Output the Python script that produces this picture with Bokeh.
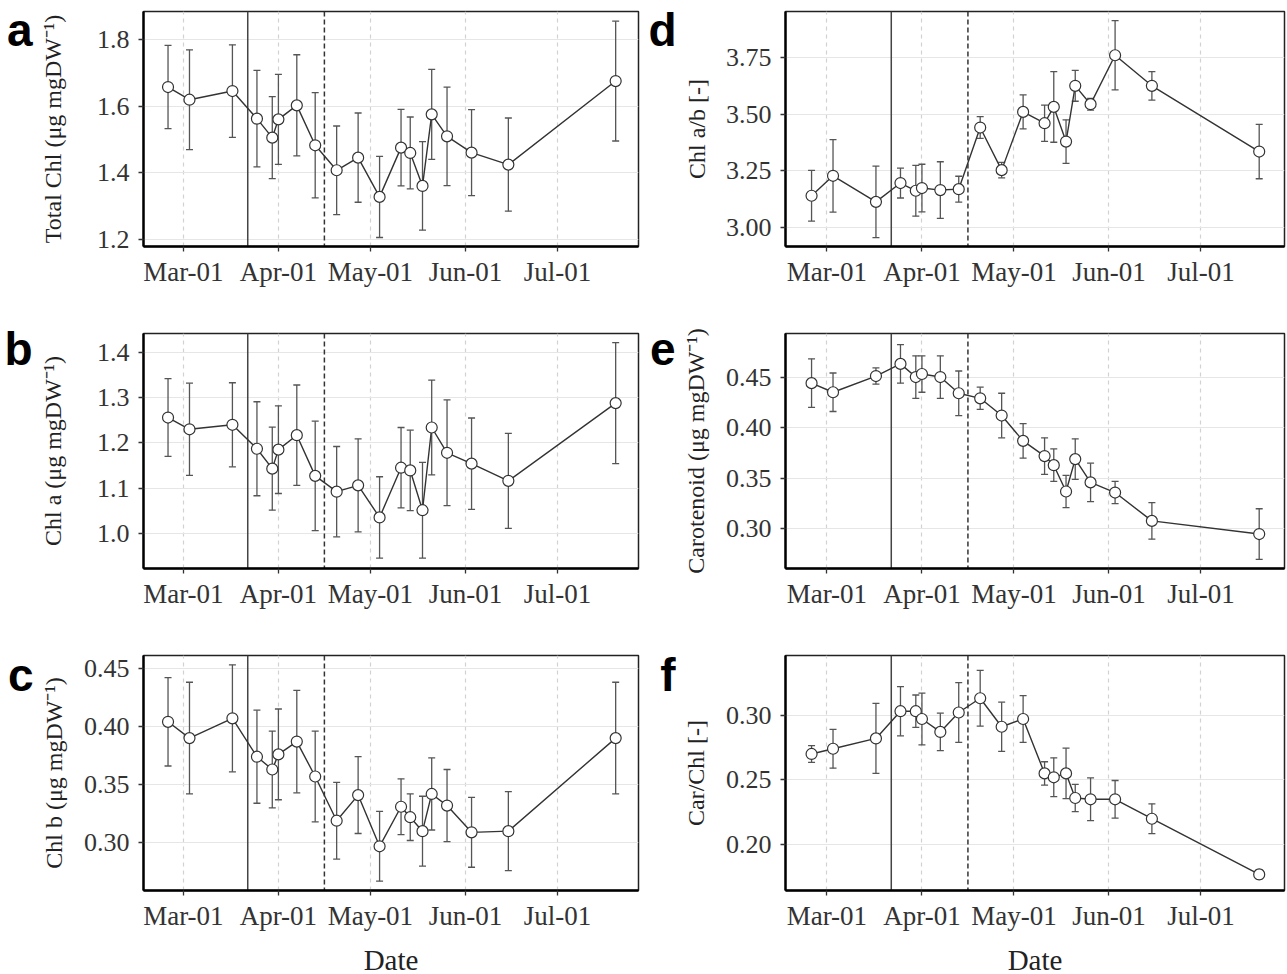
import datetime as dt
from bokeh.plotting import figure
from bokeh.models import (Span, FixedTicker, DatetimeTickFormatter, LinearAxis,
                          CustomJSTickFormatter, Range1d, NumeralTickFormatter,
                          ColumnDataSource)
from bokeh.layouts import column, row
from bokeh.embed import file_html
from bokeh.resources import INLINE

# ---------------- data ----------------
dates = ["2018-02-24", "2018-03-03", "2018-03-17", "2018-03-25", "2018-03-30",
         "2018-04-01", "2018-04-07", "2018-04-13", "2018-04-20", "2018-04-27",
         "2018-05-04", "2018-05-11", "2018-05-14", "2018-05-18", "2018-05-21",
         "2018-05-26", "2018-06-03", "2018-06-15", "2018-07-20"]
event_solid = "2018-03-22"
event_dashed = "2018-04-16"
month_ticks = ["2018-03-01", "2018-04-01", "2018-05-01", "2018-06-01", "2018-07-01"]

total_chl = [1.658, 1.620, 1.646, 1.563, 1.506, 1.561, 1.603, 1.483, 1.408, 1.446,
             1.328, 1.476, 1.460, 1.361, 1.576, 1.510, 1.461, 1.425, 1.676]
total_chl_sd = [0.125, 0.150, 0.139, 0.145, 0.123, 0.135, 0.152, 0.158, 0.133, 0.134,
                0.122, 0.115, 0.108, 0.133, 0.135, 0.148, 0.129, 0.140, 0.180]

chl_a = [1.256, 1.230, 1.240, 1.187, 1.143, 1.185, 1.217, 1.127, 1.092, 1.106,
         1.035, 1.145, 1.139, 1.051, 1.234, 1.178, 1.154, 1.116, 1.288]
chl_a_sd = [0.086, 0.102, 0.093, 0.104, 0.092, 0.097, 0.111, 0.121, 0.100, 0.103,
            0.090, 0.089, 0.089, 0.106, 0.105, 0.117, 0.101, 0.105, 0.134]

chl_b = [0.404, 0.390, 0.407, 0.374, 0.363, 0.376, 0.387, 0.357, 0.319, 0.341,
         0.297, 0.331, 0.322, 0.310, 0.342, 0.332, 0.309, 0.310, 0.390]
chl_b_sd = [0.038, 0.048, 0.046, 0.040, 0.033, 0.039, 0.044, 0.039, 0.033, 0.033,
            0.030, 0.024, 0.020, 0.030, 0.031, 0.031, 0.030, 0.034, 0.048]

chl_ab = [3.140, 3.228, 3.113, 3.196, 3.162, 3.174, 3.165, 3.169, 3.441, 3.253,
          3.510, 3.460, 3.532, 3.379, 3.625, 3.544, 3.760, 3.625, 3.335]
chl_ab_sd = [0.112, 0.160, 0.158, 0.066, 0.112, 0.105, 0.125, 0.057, 0.048, 0.034,
             0.075, 0.080, 0.156, 0.096, 0.068, 0.026, 0.153, 0.063, 0.120]

carotenoid = [0.444, 0.435, 0.451, 0.463, 0.450, 0.453, 0.450, 0.434, 0.429, 0.412,
              0.387, 0.372, 0.363, 0.337, 0.369, 0.346, 0.336, 0.308, 0.295]
carotenoid_sd = [0.024, 0.019, 0.008, 0.019, 0.021, 0.018, 0.021, 0.022, 0.011, 0.022,
                 0.017, 0.018, 0.016, 0.016, 0.020, 0.019, 0.011, 0.018, 0.025]

car_chl = [0.270, 0.274, 0.282, 0.303, 0.303, 0.297, 0.287, 0.302, 0.313, 0.291,
           0.297, 0.255, 0.252, 0.255, 0.236, 0.235, 0.235, 0.220, 0.177]
car_chl_sd = [0.0065, 0.015, 0.027, 0.019, 0.0125, 0.020, 0.0145, 0.023, 0.0215, 0.019,
              0.018, 0.009, 0.015, 0.0195, 0.0105, 0.0165, 0.0145, 0.0115, 0.0035]

titles = ["Total Chl (μg mgDW⁻¹)", "Chl a (μg mgDW⁻¹)", "Chl b (μg mgDW⁻¹)",
          "Chl a/b [-]", "Carotenoid (μg mgDW⁻¹)", "Car/Chl [-]"]
letters = ["a", "b", "c", "d", "e", "f"]
y_ticks = [[1.2, 1.4, 1.6, 1.8], [1.0, 1.1, 1.2, 1.3, 1.4], [0.30, 0.35, 0.40, 0.45],
           [3.00, 3.25, 3.50, 3.75], [0.30, 0.35, 0.40, 0.45], [0.20, 0.25, 0.30]]
y_fmt = ["0.0", "0.0", "0.00", "0.00", "0.00", "0.00"]
y_lims = [(1.179, 1.885), (0.922, 1.442), (0.259, 0.461),
          (2.916, 3.953), (0.261, 0.493), (0.1646, 0.346)]

# ---------------- helpers ----------------
DAY = 86400000.0


def ms(s):
    d = dt.datetime.strptime(s, "%Y-%m-%d").replace(tzinfo=dt.timezone.utc)
    return d.timestamp() * 1000.0


MAR1 = ms("2018-03-01")
SERIF = "Liberation Serif"
FH = 235


def panel(idx, vals, sds, col, row_idx):
    fw = 495 if col == 0 else 499
    left = 143 if col == 0 else 142
    right = 5 if col == 0 else 3
    top = [11, 12, 13][row_idx]
    bottom = [75, 74, 80][row_idx]
    x0 = MAR1 + (-13.0 if col == 0 else -13.5) * DAY
    x1 = x0 + fw / 3.066 * DAY
    ylo, yhi = y_lims[idx]

    p = figure(frame_width=fw, frame_height=FH, x_axis_type="datetime",
               x_range=Range1d(x0, x1), y_range=Range1d(ylo, yhi),
               output_backend="svg", toolbar_location=None,
               min_border_left=left, min_border_right=right,
               min_border_top=top, min_border_bottom=bottom,
               background_fill_color="white", border_fill_color="white")
    p.outline_line_color = "#222222"
    p.outline_line_width = 1.5

    xt = FixedTicker(ticks=[ms(m) for m in month_ticks])
    yt = FixedTicker(ticks=y_ticks[idx])
    p.xaxis.ticker = xt
    p.yaxis.ticker = yt
    p.xgrid.ticker = xt
    p.ygrid.ticker = yt
    p.xaxis.formatter = DatetimeTickFormatter(
        milliseconds="%b-%d", seconds="%b-%d", minsec="%b-%d", minutes="%b-%d",
        hourmin="%b-%d", hours="%b-%d", days="%b-%d", months="%b-%d", years="%b-%d")
    p.yaxis.formatter = NumeralTickFormatter(format=y_fmt[idx])

    p.xgrid.grid_line_color = "#d2d2d2"
    p.xgrid.grid_line_dash = "4 4"
    p.xgrid.grid_line_width = 1.2
    p.ygrid.grid_line_color = "#e6e6e6"
    p.ygrid.grid_line_width = 1.2

    for ax in (p.xaxis[0], p.yaxis[0]):
        ax.axis_line_color = "black"
        ax.axis_line_width = 2.4
        ax.major_tick_line_color = "#333333"
        ax.major_tick_line_width = 1.3
        ax.major_tick_out = 5
        ax.major_tick_in = 0
        ax.minor_tick_line_color = None
        ax.major_label_text_font = SERIF
        ax.major_label_text_color = "#333333"
        ax.axis_label_text_font = SERIF
        ax.axis_label_text_font_style = "normal"
        ax.axis_label_text_color = "#222222"
    p.xaxis.major_label_text_font_size = "27px"
    p.yaxis.major_label_text_font_size = "26px"
    p.yaxis.major_label_standoff = 9
    p.xaxis.major_label_standoff = 5
    p.yaxis.axis_label = titles[idx]
    p.yaxis.axis_label_text_font_size = "24px"
    p.yaxis.axis_label_standoff = [28, 28, 14, 13, 14, 14][idx]
    if row_idx == 2:
        p.xaxis.axis_label = "Date"
        p.xaxis.axis_label_text_font_size = "29px"
        p.xaxis.axis_label_standoff = 10

    # panel letter: a bare, outer left axis in frame-pixel units carrying one label
    base_below_top = [34, 31, 35][row_idx]
    p.extra_y_ranges = {"lab": Range1d(0, FH)}
    lab_axis = LinearAxis(
        y_range_name="lab", ticker=FixedTicker(ticks=[FH - (base_below_top - 16)]),
        formatter=CustomJSTickFormatter(code="return '%s'" % letters[idx]),
        axis_line_color=None, major_tick_line_color=None, minor_tick_line_color=None,
        major_tick_out=0, major_tick_in=0, major_label_standoff=4,
        major_label_text_font="Liberation Sans", major_label_text_font_style="bold",
        major_label_text_font_size="46px", major_label_text_color="black")
    p.add_layout(lab_axis, "left")

    p.add_layout(Span(location=ms(event_solid), dimension="height",
                      line_color="#444444", line_width=1.5, level="underlay"))
    p.add_layout(Span(location=ms(event_dashed), dimension="height",
                      line_color="#333333", line_width=1.5, line_dash="5 3",
                      level="underlay"))

    xs = [ms(d) for d in dates]
    lo = [v - s for v, s in zip(vals, sds)]
    hi = [v + s for v, s in zip(vals, sds)]
    src = ColumnDataSource(dict(x=xs, y=vals, lo=lo, hi=hi))
    p.segment(x0="x", y0="lo", x1="x", y1="hi", source=src,
              line_color="#555555", line_width=1.3)
    p.scatter(x="x", y="lo", source=src, marker="dash", size=7,
              line_color="#555555", line_width=1.3)
    p.scatter(x="x", y="hi", source=src, marker="dash", size=7,
              line_color="#555555", line_width=1.3)
    p.line(x="x", y="y", source=src, line_color="#333333", line_width=1.4)
    p.scatter(x="x", y="y", source=src, marker="circle", size=11,
              fill_color="white", line_color="#333333", line_width=1.2)
    return p


pa = panel(0, total_chl, total_chl_sd, 0, 0)
pb = panel(1, chl_a, chl_a_sd, 0, 1)
pc = panel(2, chl_b, chl_b_sd, 0, 2)
pd_ = panel(3, chl_ab, chl_ab_sd, 1, 0)
pe = panel(4, carotenoid, carotenoid_sd, 1, 1)
pf = panel(5, car_chl, car_chl_sd, 1, 2)

layout = column(row(pa, pd_), row(pb, pe), row(pc, pf))
open("out.html", "w").write(file_html(layout, INLINE))
